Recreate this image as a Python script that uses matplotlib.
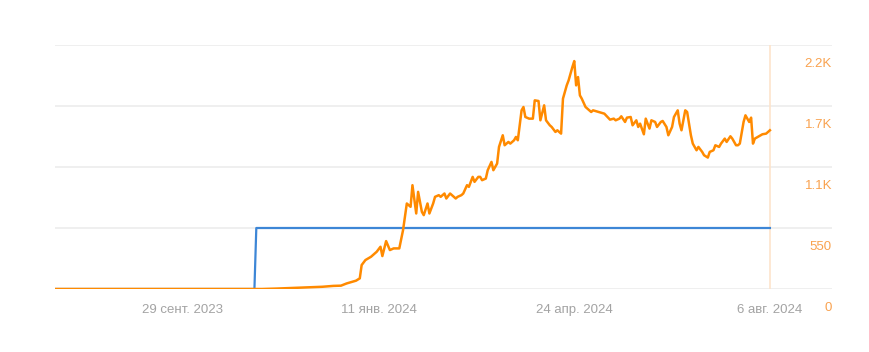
import numpy as np
import matplotlib
matplotlib.use("Agg")
import matplotlib.pyplot as plt
import matplotlib.transforms as mtransforms

plt.rcParams['font.family'] = ['Liberation Sans', 'DejaVu Sans']

# Série orange
dates_orange = [
    "2023-07-23", "2023-11-10", "2023-11-18", "2023-11-30", "2023-12-12", "2023-12-18",
    "2023-12-22", "2023-12-25", "2023-12-30", "2024-01-01", "2024-01-02", "2024-01-04",
    "2024-01-07", "2024-01-10", "2024-01-12", "2024-01-13", "2024-01-15", "2024-01-17",
    "2024-01-19", "2024-01-22", "2024-01-24", "2024-01-25", "2024-01-26", "2024-01-28",
    "2024-01-29", "2024-01-31", "2024-02-01", "2024-02-03", "2024-02-04", "2024-02-06",
    "2024-02-07", "2024-02-09", "2024-02-10", "2024-02-12", "2024-02-13", "2024-02-15",
    "2024-02-16", "2024-02-18", "2024-02-19", "2024-02-21", "2024-02-22", "2024-02-24",
    "2024-02-25", "2024-02-27", "2024-02-28", "2024-03-01", "2024-03-02", "2024-03-04",
    "2024-03-05", "2024-03-06", "2024-03-08", "2024-03-09", "2024-03-11", "2024-03-12",
    "2024-03-14", "2024-03-15", "2024-03-17", "2024-03-18", "2024-03-20", "2024-03-21",
    "2024-03-23", "2024-03-24", "2024-03-25", "2024-03-27", "2024-03-28", "2024-03-29",
    "2024-03-31", "2024-04-02", "2024-04-03", "2024-04-05", "2024-04-06", "2024-04-08",
    "2024-04-09", "2024-04-11", "2024-04-12", "2024-04-14", "2024-04-15", "2024-04-17",
    "2024-04-18", "2024-04-20", "2024-04-21", "2024-04-23", "2024-04-24", "2024-04-25",
    "2024-04-26", "2024-04-27", "2024-04-28", "2024-04-30", "2024-05-01", "2024-05-03",
    "2024-05-04", "2024-05-07", "2024-05-10", "2024-05-12", "2024-05-13", "2024-05-15",
    "2024-05-16", "2024-05-18", "2024-05-19", "2024-05-21", "2024-05-22", "2024-05-24",
    "2024-05-25", "2024-05-27", "2024-05-28", "2024-05-29", "2024-05-31", "2024-06-01",
    "2024-06-03", "2024-06-04", "2024-06-06", "2024-06-07", "2024-06-09", "2024-06-10",
    "2024-06-12", "2024-06-13", "2024-06-15", "2024-06-16", "2024-06-18", "2024-06-19",
    "2024-06-20", "2024-06-22", "2024-06-23", "2024-06-25", "2024-06-26", "2024-06-28",
    "2024-06-29", "2024-07-01", "2024-07-02", "2024-07-04", "2024-07-05", "2024-07-07",
    "2024-07-08", "2024-07-10", "2024-07-11", "2024-07-13", "2024-07-14", "2024-07-16",
    "2024-07-17", "2024-07-19", "2024-07-20", "2024-07-21", "2024-07-23", "2024-07-24",
    "2024-07-26", "2024-07-27", "2024-07-28", "2024-07-29", "2024-08-01", "2024-08-02",
    "2024-08-04", "2024-08-06",
]
valeurs_orange = [
    0, 0, 4, 12, 20, 28,
    30, 50, 75, 96, 216, 261,
    291, 336, 381, 297, 432, 351,
    366, 366, 531, 651, 771, 741,
    936, 681, 876, 696, 666, 771,
    681, 771, 831, 846, 831, 861,
    816, 861, 846, 816, 831, 846,
    861, 936, 921, 1011, 966, 1011,
    1011, 981, 996, 1071, 1146, 1071,
    1131, 1281, 1386, 1296, 1326, 1311,
    1341, 1371, 1341, 1611, 1641, 1551,
    1536, 1536, 1701, 1695, 1521, 1656,
    1521, 1476, 1461, 1416, 1431, 1401,
    1716, 1836, 1881, 2001, 2055, 1836,
    1911, 1746, 1716, 1641, 1626, 1596,
    1611, 1596, 1581, 1545, 1527, 1536,
    1521, 1536, 1557, 1506, 1545, 1551,
    1476, 1521, 1461, 1491, 1395, 1536,
    1446, 1521, 1506, 1461, 1506, 1515,
    1461, 1386, 1461, 1551, 1611, 1491,
    1431, 1611, 1596, 1386, 1311, 1251,
    1281, 1236, 1206, 1185, 1236, 1251,
    1296, 1281, 1311, 1356, 1326, 1377,
    1356, 1296, 1296, 1311, 1506, 1566,
    1506, 1545, 1311, 1356, 1386, 1395,
    1401, 1431,
]

# Série bleue (palier)
dates_bleu = ["2023-07-23", "2023-11-06", "2023-11-07", "2024-08-06"]
valeurs_bleu = [0, 0, 550, 550]

# Axes
graduations_y = [0, 550, 1100, 1650, 2200]
etiquettes_y = ["0", "550", "1.1K", "1.7K", "2.2K"]
dates_x = ["2023-09-29", "2024-01-11", "2024-04-24", "2024-08-06"]
etiquettes_x = ["29 сент. 2023", "11 янв. 2024", "24 апр. 2024", "6 авг. 2024"]

orange = "#ff8a00"
bleu = "#3d86d6"
gris_grille = "#ececec"

fig = plt.figure(figsize=(8.7, 3.52), dpi=100)
ax = fig.add_axes([55 / 870, 1 - 289 / 352, (832 - 55) / 870, (289 - 45) / 352])

d_orange = np.array(dates_orange, dtype="datetime64[D]")
d_bleu = np.array(dates_bleu, dtype="datetime64[D]")

for v in graduations_y:
    ax.axhline(v, color=gris_grille, lw=1.2, zorder=0)

# Ligne verticale à la dernière date
ax.axvline(d_orange[-1], color="#fde4cc", lw=1.2, zorder=1)

ax.plot(d_bleu, valeurs_bleu, color=bleu, lw=1.6, zorder=2)
ax.plot(d_orange, valeurs_orange, color=orange, lw=1.8, zorder=3,
        solid_joinstyle="round")

ax.set_xlim(np.datetime64("2023-07-23"), np.datetime64("2024-09-08"))
ax.set_ylim(0, 2200)

for s in ax.spines.values():
    s.set_visible(False)

ax.set_yticks([])
ax.set_xticks(np.array(dates_x, dtype="datetime64[D]"))
ax.set_xticklabels(etiquettes_x, color="#a3a3a3", fontsize=9.5)
ax.tick_params(axis="x", length=0, pad=10.5)

# Etiquettes de droite, sous chaque ligne de grille
trans = mtransforms.blended_transform_factory(ax.transAxes, ax.transData)
for v, lab in zip(graduations_y, etiquettes_y):
    ax.annotate(lab, xy=(1.0, v), xycoords=trans, xytext=(0, -14),
                textcoords="offset points", ha="right", va="center",
                color="#f9a24f", fontsize=9.5, annotation_clip=False)

fig.savefig("out.png", dpi=100, facecolor="white")
